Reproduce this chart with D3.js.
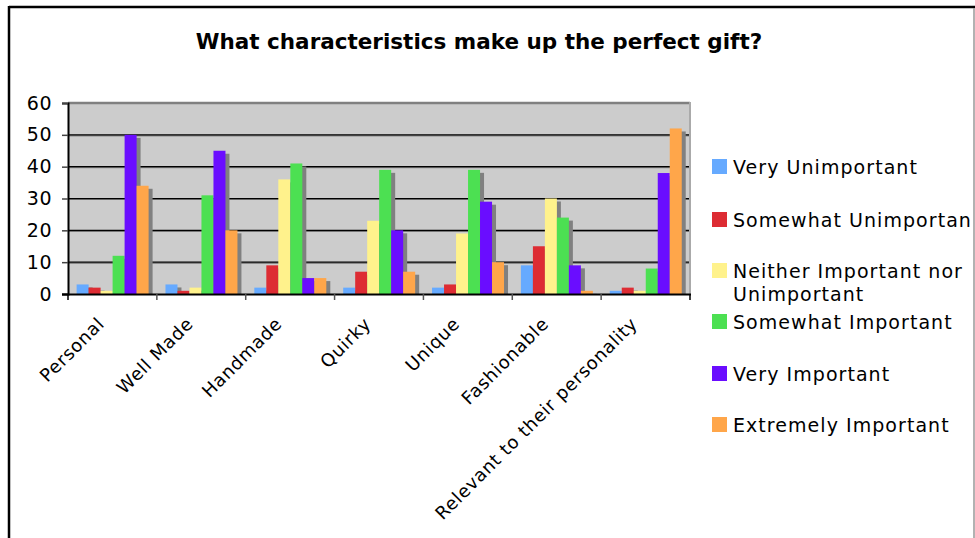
<!DOCTYPE html>
<html lang="en">
<head>
<meta charset="utf-8">
<title>What characteristics make up the perfect gift?</title>
<script src="https://d3js.org/d3.v7.min.js"></script>
<style>
  body { margin: 0; background: #fff; }
  text { font-family: "DejaVu Sans", Verdana, sans-serif; fill: #000; }
</style>
</head>
<body>
<div id="chart"></div>
<script>
// categories and answers
var categories = ["Personal", "Well Made", "Handmade", "Quirky", "Unique", "Fashionable", "Relevant to their personality"];
var seriesNames = ["Very Unimportant", "Somewhat Unimportant", "Neither Important nor Unimportant",
                   "Somewhat Important", "Very Important", "Extremely Important"];
var legendLabels = [["Very Unimportant"], ["Somewhat Unimportan"], ["Neither Important nor", "Unimportant"],
                    ["Somewhat Important"], ["Very Important"], ["Extremely Important"]];
var veryUnimportant     = [3, 3, 2, 2, 2, 9, 1];
var somewhatUnimportant = [2, 1, 9, 7, 3, 15, 2];
var neither             = [1, 2, 36, 23, 19, 30, 1];
var somewhatImportant   = [12, 31, 41, 39, 39, 24, 8];
var veryImportant       = [50, 45, 5, 20, 29, 9, 38];
var extremelyImportant  = [34, 20, 5, 7, 10, 1, 52];
var yTicks = [0, 10, 20, 30, 40, 50, 60];

var seriesValues = [veryUnimportant, somewhatUnimportant, neither, somewhatImportant, veryImportant, extremelyImportant];
var colors = ["#66aaff", "#dd2c33", "#fff28c", "#4ce052", "#6a0dff", "#ffa64a"];

var W = 975, H = 538;
var plot = {left: 68, right: 690, top: 103, bottom: 294};

var svg = d3.select("#chart").append("svg")
    .attr("width", W)
    .attr("height", H);

// outer frame
svg.append("rect").attr("x", 0).attr("y", 0).attr("width", W).attr("height", H).attr("fill", "#fff");
svg.append("line").attr("x1", 9).attr("y1", 7).attr("x2", W).attr("y2", 7)
  .attr("stroke", "#000").attr("stroke-width", 2.5);
svg.append("line").attr("x1", 9).attr("y1", 6).attr("x2", 9).attr("y2", H)
  .attr("stroke", "#000").attr("stroke-width", 2.5);
svg.append("line").attr("x1", 974).attr("y1", 8).attr("x2", 974).attr("y2", H)
  .attr("stroke", "#999").attr("stroke-width", 1.5);

svg.append("text")
  .attr("x", 479)
  .attr("y", 49)
  .attr("text-anchor", "middle")
  .style("font-size", "21.5px")
  .style("font-weight", "bold")
  .text("What characteristics make up the perfect gift?");

var x0 = d3.scaleBand().domain(categories).range([plot.left, plot.right]);
var bw = x0.bandwidth();
var x1 = d3.scaleBand().domain(seriesNames).range([bw * 0.097, bw * 0.907]);
var y = d3.scaleLinear().domain([0, 60]).range([plot.bottom, plot.top]);

// plot area
svg.append("rect")
  .attr("x", plot.left).attr("y", plot.top)
  .attr("width", plot.right - plot.left).attr("height", plot.bottom - plot.top)
  .attr("fill", "#cccccc");

// gridlines
var grid = svg.append("g");
yTicks.slice(1).forEach(function(t) {
  if (t === 60) {
    grid.append("line").attr("x1", plot.left).attr("x2", plot.right)
      .attr("y1", y(t)).attr("y2", y(t)).attr("stroke", "#808080").attr("stroke-width", 2.5);
  } else {
    grid.append("line").attr("x1", plot.left).attr("x2", plot.right)
      .attr("y1", y(t) + 1).attr("y2", y(t) + 1).attr("stroke", "#666").attr("stroke-width", 1);
    grid.append("line").attr("x1", plot.left).attr("x2", plot.right)
      .attr("y1", y(t)).attr("y2", y(t)).attr("stroke", "#000").attr("stroke-width", 1.2);
  }
});
svg.append("line").attr("x1", plot.right).attr("x2", plot.right)
  .attr("y1", plot.top - 1).attr("y2", plot.bottom)
  .attr("stroke", "#aaa").attr("stroke-width", 2);

// build rows for bars
var rows = [];
seriesValues.forEach(function(vals, s) {
  vals.forEach(function(v, c) {
    rows.push({cat: categories[c], name: seriesNames[s], value: v, color: colors[s]});
  });
});

// the gray depth behind each bar
svg.append("g").selectAll("rect")
  .data(rows)
  .enter().append("rect")
    .attr("x", function(d) { return x0(d.cat) + x1(d.name) + 4; })
    .attr("y", function(d) { return y(d.value) + 3; })
    .attr("width", x1.bandwidth())
    .attr("height", function(d) { return Math.max(0, plot.bottom - y(d.value) - 3); })
    .attr("fill", "#808080");

svg.append("g").selectAll("rect")
  .data(rows)
  .enter().append("rect")
    .attr("x", function(d) { return x0(d.cat) + x1(d.name); })
    .attr("y", function(d) { return y(d.value); })
    .attr("width", x1.bandwidth())
    .attr("height", function(d) { return plot.bottom - y(d.value); })
    .attr("fill", function(d) { return d.color; });

// y axis
var yAxis = svg.append("g")
  .attr("transform", "translate(" + plot.left + ",0)")
  .call(d3.axisLeft(y).tickValues(yTicks).tickSize(6).tickPadding(10));
yAxis.select(".domain").attr("stroke", "#000").attr("stroke-width", 2);
yAxis.selectAll(".tick line").attr("stroke", "#444").attr("stroke-width", 1.5);
yAxis.selectAll(".tick text")
  .style("font-family", "'DejaVu Sans', Verdana, sans-serif")
  .style("font-size", "19px").style("letter-spacing", "0.5px").attr("fill", "#000");

// x axis: ticks at category boundaries
svg.append("line").attr("x1", plot.left - 6).attr("x2", plot.right + 1)
  .attr("y1", plot.bottom + 0.5).attr("y2", plot.bottom + 0.5)
  .attr("stroke", "#000").attr("stroke-width", 2);
var bounds = categories.map(function(c) { return x0(c); }).concat([plot.right]);
svg.append("g").selectAll("line")
  .data(bounds)
  .enter().append("line")
    .attr("x1", function(d) { return d; }).attr("x2", function(d) { return d; })
    .attr("y1", plot.bottom).attr("y2", plot.bottom + 6)
    .attr("stroke", function(d, i) { return (i === 0 || i === bounds.length - 1) ? "#000" : "#555"; })
    .attr("stroke-width", 1.5);

svg.append("g").selectAll("text")
  .data(categories)
  .enter().append("text")
    .attr("transform", function(d) {
      return "translate(" + (x0(d) + bw / 2 - 7) + "," + 325 + ") rotate(-45)";
    })
    .attr("text-anchor", "end")
    .style("font-size", "18px")
    .style("letter-spacing", "0.7px")
    .text(function(d) { return d; });

// legend
var legendY = [167, 220, 271, 322, 374, 425];
var legend = svg.append("g");
legendLabels.forEach(function(lines, i) {
  legend.append("rect")
    .attr("x", 712).attr("y", legendY[i] - 8)
    .attr("width", 15).attr("height", 15)
    .attr("fill", colors[i]);
  lines.forEach(function(line, j) {
    legend.append("text")
      .attr("x", 733)
      .attr("y", legendY[i] + 7 + j * 23)
      .style("font-size", "19px")
      .style("letter-spacing", "1.05px")
      .text(line);
  });
});
</script>
</body>
</html>
